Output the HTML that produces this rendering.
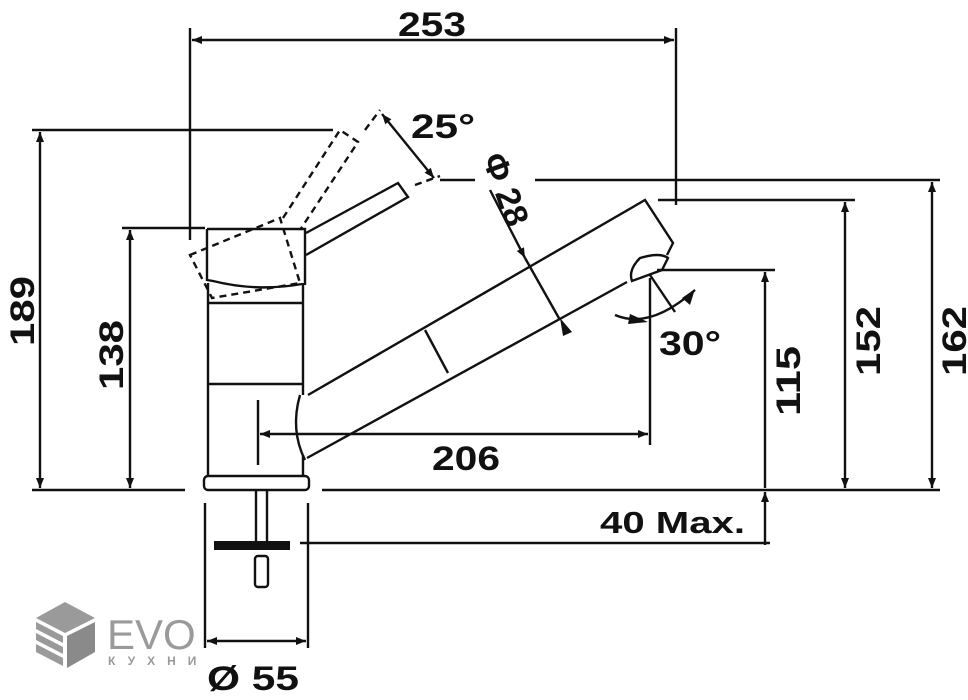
<!DOCTYPE html>
<html><head><meta charset="utf-8"><style>
html,body{margin:0;padding:0;background:#fff;width:968px;height:700px;overflow:hidden}
svg{display:block}
text{font-family:"Liberation Sans",Arial,sans-serif;fill:#111}
</style></head><body>
<svg width="968" height="700" viewBox="0 0 968 700" xmlns="http://www.w3.org/2000/svg">
<defs>
<marker id="a" viewBox="0 0 10 10" refX="10" refY="5" markerWidth="15" markerHeight="10" markerUnits="userSpaceOnUse" orient="auto-start-reverse"><path d="M0,1 L10,5 L0,9 z" fill="#111"/></marker>
</defs>
<g stroke="#111" stroke-width="2.4" fill="none">
<line x1="190" y1="28" x2="190" y2="240"/>
<line x1="676" y1="28" x2="676" y2="205"/>
<line x1="192" y1="40" x2="674" y2="40" marker-start="url(#a)" marker-end="url(#a)"/>
<line x1="32" y1="130" x2="333" y2="130"/>
<line x1="40" y1="132" x2="40" y2="488" marker-start="url(#a)" marker-end="url(#a)"/>
<line x1="122" y1="228" x2="205" y2="228"/>
<line x1="130" y1="230" x2="130" y2="488" marker-start="url(#a)" marker-end="url(#a)"/>
<line x1="32" y1="490" x2="185" y2="490"/>
<line x1="322" y1="490" x2="940" y2="490"/>
<line x1="440" y1="180" x2="475" y2="180"/>
<line x1="535" y1="180" x2="940" y2="180"/>
<line x1="932" y1="182" x2="932" y2="488" marker-start="url(#a)" marker-end="url(#a)"/>
<line x1="658" y1="200" x2="855" y2="200"/>
<line x1="845" y1="202" x2="845" y2="488" marker-start="url(#a)" marker-end="url(#a)"/>
<line x1="657" y1="270" x2="775" y2="270"/>
<line x1="765" y1="272" x2="765" y2="488" marker-start="url(#a)"/>
<line x1="765" y1="492" x2="765" y2="545" marker-start="url(#a)"/>
<line x1="300" y1="543" x2="770" y2="543"/>
<line x1="258" y1="400" x2="258" y2="465"/>
<line x1="650" y1="278" x2="650" y2="445"/>
<line x1="260" y1="434" x2="648" y2="434" marker-start="url(#a)" marker-end="url(#a)"/>
<line x1="205" y1="503" x2="205" y2="648"/>
<line x1="308" y1="503" x2="308" y2="648"/>
<line x1="207" y1="641" x2="306" y2="641" marker-start="url(#a)" marker-end="url(#a)"/>
<line x1="208" y1="283" x2="208" y2="477"/>
<line x1="303" y1="283" x2="303" y2="395"/>
<line x1="303" y1="455" x2="303" y2="477"/>
<line x1="208" y1="303" x2="303" y2="303"/>
<line x1="208" y1="384" x2="303" y2="384"/>
<rect x="204" y="476" width="105" height="14" rx="4"/>
<path d="M207,229 L305,229 L305,285 M207,229 L207,280 L213,281 Q257,292 302,284"/>
<path d="M306,233 L398,183 L408,197 L306,255"/>
<g stroke-dasharray="7,5">
<path d="M190,255 L280,218 L300,283 L212,298 Z"/>
<path d="M283,218 L340,130 L358,142 L300,230"/>
<line x1="365" y1="130" x2="380" y2="110"/>
<line x1="415" y1="185" x2="440" y2="176"/>
</g>
<line x1="382" y1="114" x2="434" y2="178" marker-start="url(#a)" marker-end="url(#a)"/>
<path d="M308,395 L645,200 L673,243 L667,255"/>
<path d="M307,458 L627,282"/>
<path d="M300,395 Q290,430 305,460"/>
<path d="M640,258 Q660,252 668,258 L662,270 L632,281 Q628,270 640,258 Z"/>
<line x1="425" y1="330" x2="448" y2="373"/>
<line x1="490" y1="190" x2="525" y2="258" marker-end="url(#a)"/>
<line x1="525" y1="258" x2="560" y2="320"/>
<path d="M560,318 L572,332 L563,336 Z" fill="#111" stroke="none"/>
<line x1="650" y1="275" x2="675" y2="312"/>
<path d="M615,315 Q650,330 695,290"/>
<path d="M630,314 L648,322 L628,324 Z" fill="#111" stroke="none"/>
<path d="M682,298 L695,289 L690,305 Z" fill="#111" stroke="none"/>
<line x1="256" y1="490" x2="256" y2="541"/>
<line x1="267" y1="490" x2="267" y2="541"/>
<rect x="255" y="556" width="13" height="31" rx="3"/>
</g>
<rect x="214" y="541" width="76" height="9" fill="#111"/>
<g font-size="34" font-weight="bold">
<text x="398" y="36" textLength="68" lengthAdjust="spacingAndGlyphs">253</text>
<text x="411" y="138" textLength="64" lengthAdjust="spacingAndGlyphs">25°</text>
<text x="432" y="470" textLength="68" lengthAdjust="spacingAndGlyphs">206</text>
<text x="659" y="355" textLength="62" lengthAdjust="spacingAndGlyphs">30°</text>
<text x="600" y="533" font-size="31" textLength="145" lengthAdjust="spacingAndGlyphs">40 Max.</text>
<text x="207" y="690" textLength="92" lengthAdjust="spacingAndGlyphs">Ø 55</text>
<text transform="translate(34,346) rotate(-90)" textLength="70" lengthAdjust="spacingAndGlyphs">189</text>
<text transform="translate(123,390) rotate(-90)" textLength="70" lengthAdjust="spacingAndGlyphs">138</text>
<text transform="translate(800,416) rotate(-90)" textLength="70" lengthAdjust="spacingAndGlyphs">115</text>
<text transform="translate(880,376) rotate(-90)" textLength="70" lengthAdjust="spacingAndGlyphs">152</text>
<text transform="translate(966,376) rotate(-90)" textLength="70" lengthAdjust="spacingAndGlyphs">162</text>
<text transform="translate(482,158) rotate(70)">Φ 28</text>
</g>
<g fill="#9a9a9a">
<path d="M65,602 L95,618 L65,633 L36,618 Z"/>
<path d="M36,622 L63,636 L63,643 L36,629 Z M36,633 L63,647 L63,654 L36,640 Z M36,644 L63,658 L63,666 L36,652 Z"/>
<path d="M67,636 L95,622 L95,652 L67,668 Z" fill="#8a8a8a"/>
</g>
<text x="107" y="649" font-size="42" style="fill:#9a9a9a">EVO</text>
<text x="108" y="665" font-size="12" letter-spacing="12" font-weight="bold" style="fill:#9a9a9a">КУХНИ</text>
</svg>
</body></html>
